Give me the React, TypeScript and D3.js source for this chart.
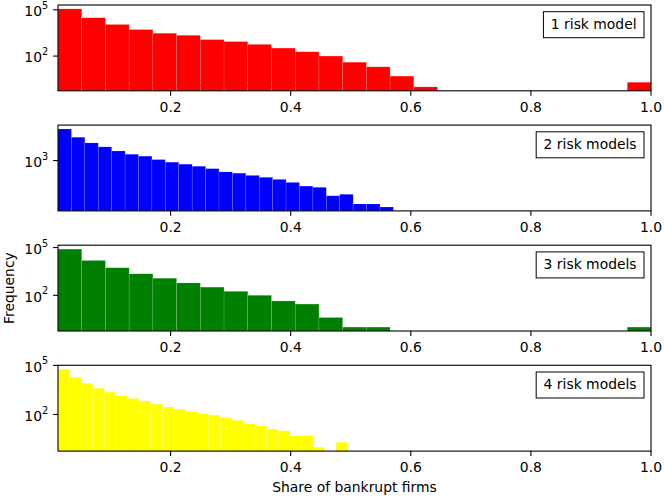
import { useLayoutEffect, useRef, useState } from "react";
import * as d3 from "d3";

// histogram counts per bin (25 bins from the smallest share to each panel's max)
const panelLabels = ["1 risk model", "2 risk models", "3 risk models", "4 risk models"];
const barColors = ["#ff0000", "#0000ff", "#008000", "#ffff00"];
const shareLow = 0.0125;
const shareHigh = [1.0, 0.571, 1.0, 0.495];

const oneModel = [115000, 30500, 11200, 5250, 3030, 2240, 1170, 870, 575, 330, 190, 100, 40, 20, 5, 1, 0, 0, 0, 0, 0, 0, 0, 0, 2];
const twoModels = [69000, 22900, 10700, 6300, 3630, 2340, 1820, 1150, 810, 620, 470, 340, 220, 186, 138, 107, 81, 54, 33, 28, 9, 11, 3, 3, 2];
const threeModels = [80000, 15500, 5400, 2240, 1180, 600, 325, 177, 100, 44, 28, 4, 1, 1, 0, 0, 0, 0, 0, 0, 0, 0, 0, 0, 1];
const fourModels = [58500, 18700, 8150, 4000, 2290, 1380, 950, 655, 430, 284, 214, 154, 110, 93, 63, 44, 27, 20, 13, 10, 5, 5, 1, 0, 2];
const counts = [oneModel, twoModels, threeModels, fourModels];

const xTicks = [0.2, 0.4, 0.6, 0.8, 1.0];
const yTickExponents = [[2, 5], [3], [2, 5], [2, 5]];

const W = 664;
const H = 498;
const left = 58;
const right = 651;
const firstTop = 5;
const panelStep = 120.1;
const panelH = 85.8;
const font = "DejaVu Sans, sans-serif";
const fs = 13.9;
const tickLen = 4.9;

const LegendBox = ({ xRight, yTop, label }: { xRight: number; yTop: number; label: string }) => {
  const ref = useRef<SVGTextElement>(null);
  const [w, setW] = useState(label.length * 7.2);
  useLayoutEffect(() => {
    if (ref.current) setW(ref.current.getComputedTextLength());
  }, [label]);
  const padX = 7.4;
  return (
    <g>
      <rect x={xRight - w - 2 * padX} y={yTop} width={w + 2 * padX} height={26} fill="#fff" stroke="#000" strokeWidth={1} />
      <text ref={ref} x={xRight - padX} y={yTop + 17} textAnchor="end" fontSize={fs} fontFamily={font} fill="#000">
        {label}
      </text>
    </g>
  );
};

const Panel = ({ i }: { i: number }) => {
  const top = firstTop + i * panelStep;
  const bottom = top + panelH;
  const data = counts[i];
  const x = d3.scaleLinear().domain([shareLow, 1.0]).range([left, right]);
  const edges = d3.range(data.length + 1).map((k) => shareLow + (k * (shareHigh[i] - shareLow)) / data.length);

  // log axis padded by 5% of the data span, like matplotlib autoscale
  const positive = data.filter((c) => c > 0);
  const lo = Math.log10(d3.min(positive) ?? 1);
  const hi = Math.log10(d3.max(positive) ?? 10);
  const pad = 0.05 * (hi - lo);
  const y = d3.scaleLog().domain([10 ** (lo - pad), 10 ** (hi + pad)]).range([bottom, top]);

  return (
    <g>
      {data.map((c, k) =>
        c > 0 ? (
          <rect
            key={k}
            x={x(edges[k])}
            y={y(c)}
            width={x(edges[k + 1]) - x(edges[k])}
            height={bottom - y(c)}
            fill={barColors[i]}
            stroke="#fff"
            strokeOpacity={0.25}
            strokeWidth={0.5}
          />
        ) : null
      )}
      <rect x={left} y={top} width={right - left} height={panelH} fill="none" stroke="#000" strokeWidth={1.1} />

      {/* x ticks */}
      {xTicks.map((t) => (
        <g key={t} transform={`translate(${x(t)}, ${bottom})`}>
          <line y1={0} y2={tickLen} stroke="#000" strokeWidth={1.1} />
          <text y={21} textAnchor="middle" fontSize={fs} fontFamily={font} fill="#000">
            {t.toFixed(1)}
          </text>
        </g>
      ))}

      {/* y ticks (decades) */}
      {yTickExponents[i].map((e) => (
        <g key={e} transform={`translate(${left}, ${y(10 ** e)})`}>
          <line x1={-tickLen} x2={0} stroke="#000" strokeWidth={1.1} />
          <text x={-tickLen - 4.9} y={6.3} textAnchor="end" fontSize={fs} fontFamily={font} fill="#000">
            10
            <tspan fontSize={9.7} dy={-7.2}>
              {e}
            </tspan>
          </text>
        </g>
      ))}

      <LegendBox xRight={right - 7} yTop={top + 6.7} label={panelLabels[i]} />
    </g>
  );
};

const App = () => {
  return (
    <div style={{ position: "absolute", left: 0, top: 0 }}>
      <svg width={W} height={H} viewBox={`0 0 ${W} ${H}`} style={{ display: "block", background: "#fff" }}>
        {counts.map((_, i) => (
          <Panel key={i} i={i} />
        ))}
        <text
          transform={`translate(13.6, ${firstTop + 2 * panelStep + panelH / 2}) rotate(-90)`}
          textAnchor="middle"
          fontSize={fs}
          fontFamily={font}
          fill="#000"
        >
          Frequency
        </text>
        <text x={(left + right) / 2} y={491.5} textAnchor="middle" fontSize={fs} fontFamily={font} fill="#000">
          Share of bankrupt firms
        </text>
      </svg>
    </div>
  );
};

export default App;
